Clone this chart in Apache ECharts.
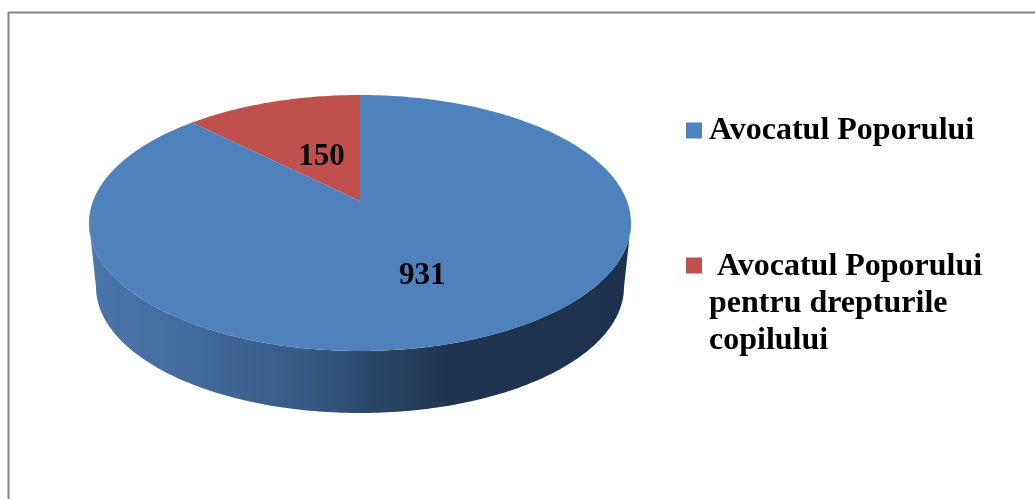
<!DOCTYPE html>
<html>
<head>
<meta charset="utf-8">
<style>html,body{margin:0;padding:0;background:#fff}#c{width:1035px;height:499px}</style>
<script src="https://cdn.jsdelivr.net/npm/echarts@6/dist/echarts.min.js"></script>
</head>
<body>
<div id="c"></div>
<script>
const categories = ["Avocatul Poporului", " Avocatul Poporului\npentru drepturile\ncopilului"];
const values = [931, 150];
const sliceColors = ["#4f81bd", "#c0504d"];

const total = values.reduce((a, b) => a + b, 0);
const DEG = Math.PI / 180;
// Perspective view of a tilted disc
const disc = { cx: 360, cy: 223, rx: 271, ry: 128, apexShift: -22 };
const base = { cx: 360, cy: 287, rx: 264, ry: 126 };
const a = disc.apexShift / disc.ry;
const d = disc.rx * Math.sqrt(1 - a * a);
const labelShift = [[10, 12], [6, 10]];

function project(theta, r) {
  // theta: clockwise from 12 o'clock
  const t = theta - 5.08 * DEG * Math.sin(2 * theta);
  const u = r * Math.sin(t), v = -r * Math.cos(t);
  const w = 1 + a * v;
  return [disc.cx + d * u / w, disc.cy + (disc.ry * v + disc.apexShift) / w];
}
function sliceAngles(i) {
  const before = values.slice(0, i).reduce((s, x) => s + x, 0);
  return [before / total * 2 * Math.PI, (before + values[i]) / total * 2 * Math.PI];
}
function wallPoints() {
  const pts = [];
  for (let k = 0; k <= 180; k++) {
    const t = k * DEG;
    pts.push([disc.cx + disc.rx * Math.cos(t), disc.cy + disc.ry * Math.sin(t)]);
  }
  for (let k = 180; k >= 0; k--) {
    const t = k * DEG;
    pts.push([base.cx + base.rx * Math.cos(t), base.cy + base.ry * Math.sin(t)]);
  }
  return pts;
}
function renderSlice(i) {
  return function () {
    const [s, e] = sliceAngles(i);
    const n = Math.max(4, Math.round((e - s) / DEG));
    const pts = [project(0, 0)];
    for (let k = 0; k <= n; k++) pts.push(project(s + (e - s) * k / n, 1));
    const children = [];
    if (i === 0) {
      children.push({
        type: 'polygon', shape: { points: wallPoints() },
        style: { fill: new echarts.graphic.LinearGradient(0, 0, 1, 0, [
          { offset: 0, color: '#4a76ab' },
          { offset: 0.2, color: '#426a9b' },
          { offset: 0.4, color: '#365a85' },
          { offset: 0.52, color: '#2b4768' },
          { offset: 0.66, color: '#203550' },
          { offset: 1, color: '#1c314e' }
        ]) }
      });
    }
    children.push({ type: 'polygon', shape: { points: pts }, style: { fill: sliceColors[i] } });
    const m = project((s + e) / 2, 0.5);
    children.push({
      type: 'text', z2: 10,
      style: {
        x: m[0] + labelShift[i][0], y: m[1] + labelShift[i][1],
        text: String(values[i]), align: 'center', verticalAlign: 'middle',
        fontFamily: '"Liberation Serif"', fontWeight: 'bold', fontSize: 31, fill: '#000'
      }
    });
    return { type: 'group', children };
  };
}
const legendText = { fontFamily: '"Liberation Serif"', fontWeight: 'bold', fontSize: 32, color: '#000', lineHeight: 37, padding: [6, 0, 0, 2] };
const chart = echarts.init(document.getElementById('c'), null, { renderer: 'canvas' });
chart.setOption({
  animation: false,
  backgroundColor: '#fff',
  graphic: [{
    type: 'rect', silent: true,
    shape: { x: 8.5, y: 12.5, width: 1100, height: 600 },
    style: { fill: 'none', stroke: '#868686', lineWidth: 2 }
  }],
  legend: [
    { data: [categories[0]], left: 686, top: 109, itemWidth: 16, itemHeight: 16, icon: 'rect',
      itemGap: 0, padding: 0, selectedMode: false, textStyle: legendText },
    { data: [categories[1]], left: 686, top: 245, itemWidth: 16, itemHeight: 92,
      icon: 'path://M0 0H16V16H0ZM0 92H0.01V92.01H0Z', itemGap: 0, padding: 0, selectedMode: false, textStyle: legendText }
  ],
  series: categories.map((name, i) => ({
    type: 'custom', name, coordinateSystem: 'none', silent: true,
    itemStyle: { color: sliceColors[i] },
    data: [[values[i]]],
    renderItem: renderSlice(i)
  }))
});
</script>
</body>
</html>
